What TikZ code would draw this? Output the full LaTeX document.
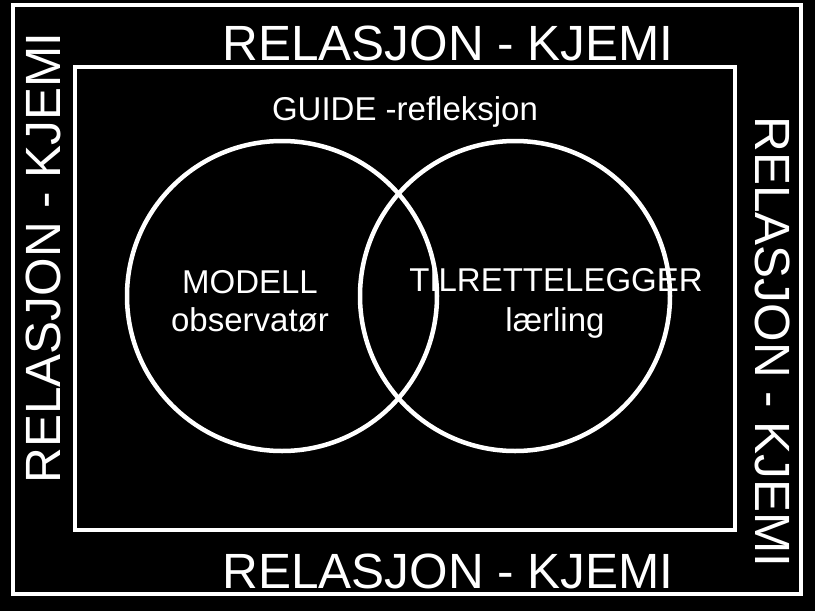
\documentclass[tikz,border=0pt]{standalone}
\usepackage{fontspec}
\setmainfont{Liberation Sans}
\usetikzlibrary{positioning}

\tikzset{
  ramme/.style={draw=white, line width=4pt},
  ring/.style={circle, draw=white, line width=4.5pt, minimum size=310pt, inner sep=0pt},
  stortekst/.style={text=white, font=\fontsize{49.5}{50}\selectfont, inner sep=0pt, anchor=base},
  smatekst/.style={text=white, font=\fontsize{33}{38}\selectfont, inner sep=0pt, anchor=base},
}

\begin{document}
\begin{tikzpicture}[x=1pt, y=-1pt]
  \fill[black] (0,0) rectangle (815,611);
  \useasboundingbox (0,0) rectangle (815,611);
  % rammer
  \draw[ramme] (12.5,5) rectangle (801,594);
  \draw[ramme] (75,67) rectangle (735,530);
  % relasjon rundt
  \node[stortekst] (topp) at (448,60) {RELASJON - KJEMI};
  \node[stortekst] (bunn) at (448,588) {RELASJON - KJEMI};
  \node[stortekst, rotate=90] (venstre) at (60,258) {RELASJON - KJEMI};
  \node[stortekst, rotate=-90] (hoyre) at (755,342) {RELASJON - KJEMI};
  % venn
  \node[ring] (modell) at (282,296) {};
  \node[ring] (tilrett) at (515,296) {};
  \node[smatekst] (guide) at (405,120) {GUIDE -refleksjon};
  \node[smatekst] (modtxt) at (250,293) {MODELL};
  \node[smatekst] (obstxt) at (250,331) {observatør};
  \node[smatekst] (tiltxt) at (556,291) {TILRETTELEGGER};
  \node[smatekst] (lartxt) at (555,331) {lærling};
\end{tikzpicture}
\end{document}
